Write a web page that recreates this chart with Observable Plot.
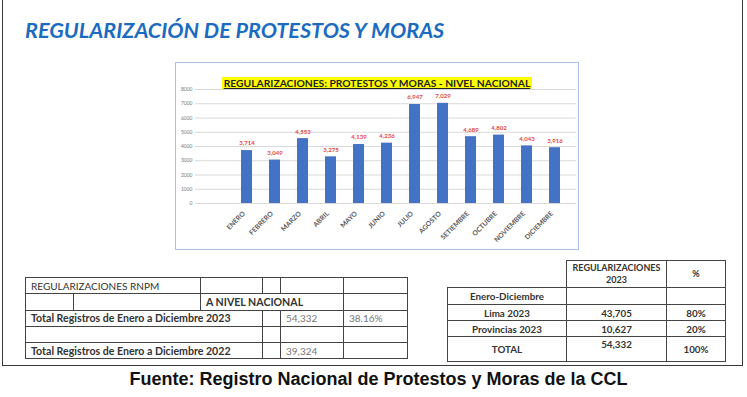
<!DOCTYPE html>
<html><head><meta charset="utf-8">
<script src="https://cdn.jsdelivr.net/npm/d3@7"></script>
<script src="https://cdn.jsdelivr.net/npm/@observablehq/plot@0.6"></script>
<style>
body{margin:0;background:#fff;}
#page{position:relative;width:747px;height:397px;overflow:hidden;font-family:Lato,sans-serif;}
#frame{position:absolute;left:2px;top:-3px;width:741px;height:369px;border:1.5px solid #3a3a3a;box-sizing:border-box;}
#title{position:absolute;left:25px;top:17px;font:italic 700 21.6px Lato;color:#1b6cc1;white-space:nowrap;}
#chartbox{position:absolute;left:175px;top:62px;width:402px;height:186px;border:1px solid #a9c3e4;}
#chartbox svg{position:absolute;left:0;top:0;}
#ctitle{position:absolute;left:0;top:8px;width:402px;text-align:center;z-index:2;}
#ctitle span{background:#ffff00;font:700 10.3px Lato;line-height:10px;text-decoration:underline;color:#222;white-space:nowrap;padding:0 2px;}
table{position:absolute;border-collapse:collapse;table-layout:fixed;font-family:Lato,sans-serif;color:#333;}
td{border:1px solid #444;padding:0 0 0 5px;font-size:10px;white-space:nowrap;overflow:hidden;}
#t1{left:25px;top:277px;width:382px;}
#t1 td{height:15.3px;}
#t1 td.b{font-size:10.6px;}
#t2{left:447px;top:260px;width:278px;}
#t2 td{text-align:center;padding:0;font-weight:700;font-size:9.8px;}
#t2 td.h{font-size:9px;}
.num{color:#777;font-weight:400;}
.b{font-weight:700;}
#foot{position:absolute;left:0;width:747px;top:369px;text-align:center;font:700 18px "Liberation Sans",Arial,sans-serif;color:#111;padding-left:10px;box-sizing:border-box;}
</style></head>
<body>
<div id="page">
  <div id="frame"></div>
  <div id="title"></div>
  <div id="chartbox"><div id="ctitle"><span></span></div></div>
  <table id="t1"></table>
  <table id="t2"></table>
  <div id="foot"></div>
</div>
<script>
// ---- data ----
const tituloPagina = "REGULARIZACIÓN DE PROTESTOS Y MORAS";
const tituloGrafico = "REGULARIZACIONES: PROTESTOS Y MORAS - NIVEL NACIONAL";
const meses = ["ENERO","FEBRERO","MARZO","ABRIL","MAYO","JUNIO","JULIO","AGOSTO","SETIEMBRE","OCTUBRE","NOVIEMBRE","DICIEMBRE"];
const valores = [3714, 3049, 4553, 3275, 4139, 4236, 6947, 7029, 4689, 4802, 4043, 3916];
const yTicks = [0,1000,2000,3000,4000,5000,6000,7000,8000];
const t1Etiquetas = ["REGULARIZACIONES RNPM","A NIVEL NACIONAL","Total Registros de Enero a Diciembre 2023","Total Registros de Enero a Diciembre 2022"];
const t1Valores = ["54,332","39,324"];
const t1Porcentaje = "38.16%";
const t2Encabezados = ["REGULARIZACIONES<br>2023","%"];
const t2Filas = ["Enero-Diciembre","Lima 2023","Provincias 2023","TOTAL"];
const t2Valores = ["","43,705","10,627","54,332"];
const t2Porcentajes = ["","80%","20%","100%"];
const fuente = "Fuente: Registro Nacional de Protestos y Moras de la CCL";

document.getElementById("title").textContent = tituloPagina;
document.querySelector("#ctitle span").textContent = tituloGrafico;
document.getElementById("foot").textContent = fuente;

const data = meses.map((m,i)=>({mes:m, valor:valores[i]}));
const fmt = d3.format(",");

const chart = Plot.plot({
  width: 402, height: 186,
  marginLeft: 19, marginRight: 2, marginTop: 26, marginBottom: 46,
  style: {background: "transparent", fontFamily: "Lato, sans-serif"},
  x: {domain: meses, paddingInner: 0.6, paddingOuter: 0.95, align: 0.74, axis: null},
  y: {domain: [0, 8000], axis: null},
  marks: [
    Plot.gridY(yTicks, {stroke: "#d9d9d9", strokeOpacity: 1}),
    Plot.axisY(yTicks, {tickSize: 0, tickPadding: 3, fontSize: 5, fill: "#7a7a7a", tickFormat: d => String(d), label: null}),
    Plot.barY(data, {x: "mes", y: "valor", fill: "#4472c4"}),
    Plot.text(data, {x: "mes", y: "valor", text: d => fmt(d.valor), dy: -7, fill: "#e8453c", fontSize: 6, fontWeight: "bold"}),
    Plot.axisX({tickSize: 0, tickPadding: 9, dx: -3, tickRotate: -45, fontSize: 6.8, fontWeight: "bold", fill: "#595959", label: null})
  ]
});
document.getElementById("chartbox").appendChild(chart);

// ---- table 1 ----
const t1 = document.getElementById("t1");
t1.innerHTML = `
<colgroup><col style="width:48px"><col style="width:127px"><col style="width:62px"><col style="width:18px"><col style="width:63px"><col style="width:64px"></colgroup>
<tr><td colspan="2">${t1Etiquetas[0]}</td><td></td><td></td><td></td><td></td></tr>
<tr><td></td><td></td><td colspan="3" class="b">${t1Etiquetas[1]}</td><td></td></tr>
<tr><td colspan="3" class="b">${t1Etiquetas[2]}</td><td></td><td class="num">${t1Valores[0]}</td><td class="num">${t1Porcentaje}</td></tr>
<tr><td colspan="3"></td><td></td><td></td><td></td></tr>
<tr><td colspan="3" class="b">${t1Etiquetas[3]}</td><td></td><td class="num">${t1Valores[1]}</td><td></td></tr>`;

// ---- table 2 ----
const t2 = document.getElementById("t2");
const hts = [16.5, 15, 15, 23.5];
t2.innerHTML = `
<colgroup><col style="width:119px"><col style="width:100px"><col style="width:59px"></colgroup>
<tr><td style="border-top:none;border-left:none;height:26px"></td><td class="h" style="line-height:12px">${t2Encabezados[0]}</td><td class="h">${t2Encabezados[1]}</td></tr>
` + t2Filas.map((f,i)=>`<tr><td style="height:${hts[i]}px">${f}</td><td style="${i===3?'vertical-align:top;padding-top:1px':''}">${t2Valores[i]}</td><td>${t2Porcentajes[i]}</td></tr>`).join("");
</script>
</body></html>
